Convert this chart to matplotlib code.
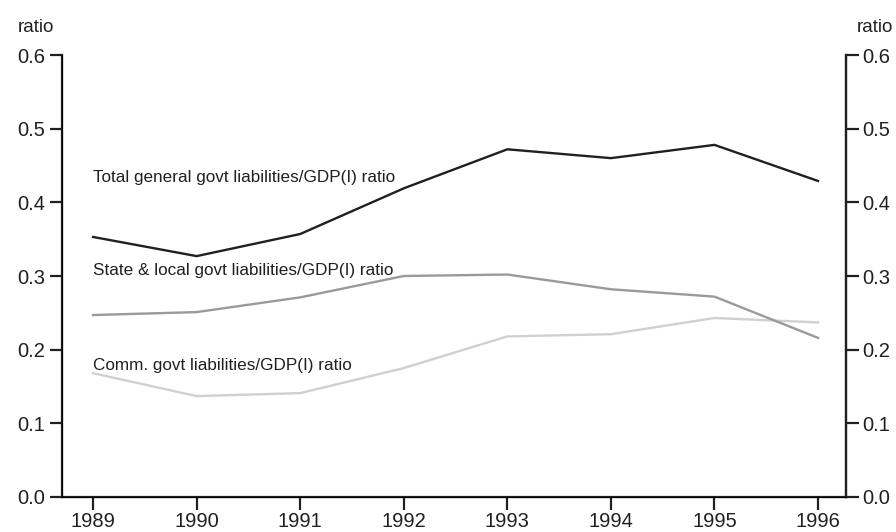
import matplotlib
matplotlib.use("Agg")
import matplotlib.pyplot as plt

# ---------------------------------------------------------------------------
# Dados
# ---------------------------------------------------------------------------
years = [1989, 1990, 1991, 1992, 1993, 1994, 1995, 1996]
total_ratio = [0.353, 0.327, 0.357, 0.419, 0.472, 0.460, 0.478, 0.429]
state_local_ratio = [0.247, 0.251, 0.271, 0.300, 0.302, 0.282, 0.272, 0.216]
comm_ratio = [0.168, 0.137, 0.141, 0.175, 0.218, 0.221, 0.243, 0.237]

labels = [
    "Total general govt liabilities/GDP(I) ratio",
    "State & local govt liabilities/GDP(I) ratio",
    "Comm. govt liabilities/GDP(I) ratio",
]
label_y = [0.434, 0.308, 0.179]
yticks = [0.0, 0.1, 0.2, 0.3, 0.4, 0.5, 0.6]

plt.rcParams["font.family"] = ["Liberation Sans", "DejaVu Sans"]
INK = "#231f20"

fig = plt.figure(figsize=(8.96, 5.32), dpi=100)
ax = fig.add_axes([0.0692, 0.0658, 0.875, 0.8308])

ax.plot(years, comm_ratio, color="#d0d0d0", lw=1.7)
ax.plot(years, state_local_ratio, color="#9a9a9a", lw=1.7)
ax.plot(years, total_ratio, color=INK, lw=1.7)

for txt, yv in zip(labels, label_y):
    ax.text(years[0], yv, txt, fontsize=12.3, color=INK, ha="left", va="center")

ax.set_xlim(1988.70, 1996.27)
ax.set_ylim(0, 0.6)
ax.set_xticks(years)
ax.set_yticks(yticks)
ax.set_yticklabels([f"{v:.1f}" for v in yticks])

for side in ["left", "right", "bottom"]:
    ax.spines[side].set_linewidth(1.6)
    ax.spines[side].set_color(INK)
ax.spines["top"].set_visible(False)
ax.tick_params(axis="both", direction="out", length=9, width=1.6, color=INK,
               labelsize=14.5, labelcolor=INK, pad=3)
ax.tick_params(axis="x", pad=1.5)

ax2 = ax.twinx()
ax2.set_ylim(0, 0.6)
ax2.set_yticks(yticks)
ax2.set_yticklabels([f"{v:.1f}" for v in yticks])
ax2.spines["top"].set_visible(False)
ax2.spines["right"].set_linewidth(1.6)
ax2.spines["right"].set_color(INK)
ax2.tick_params(axis="y", direction="out", length=9, width=1.6, color=INK,
                labelsize=14.5, labelcolor=INK, pad=3)

fig.text(0.020, 0.948, "ratio", fontsize=13.5, color=INK, ha="left", va="center")
fig.text(0.997, 0.948, "ratio", fontsize=13.5, color=INK, ha="right", va="center")

fig.savefig("out.png", dpi=100)
plt.close(fig)
